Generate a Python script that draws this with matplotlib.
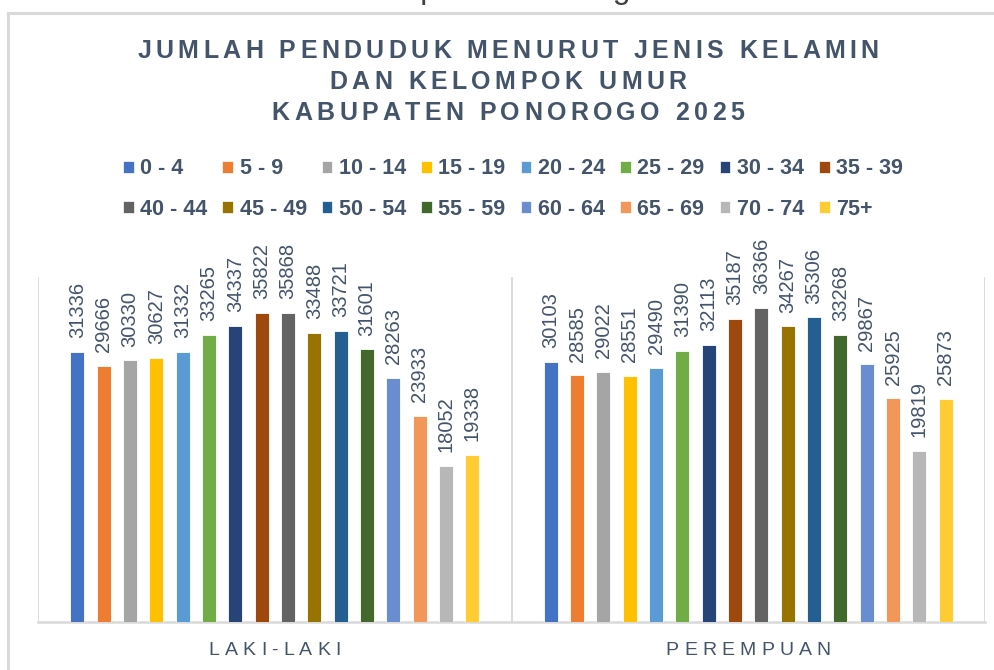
import numpy as np
import matplotlib
matplotlib.use('Agg')
import matplotlib.pyplot as plt
from matplotlib.patches import Patch
from matplotlib.lines import Line2D
from matplotlib.font_manager import FontProperties

plt.rcParams['font.family'] = ['Liberation Sans', 'DejaVu Sans']

# --- Data ---
kelompok_umur = ['0 - 4', '5 - 9', '10 - 14', '15 - 19', '20 - 24', '25 - 29',
                 '30 - 34', '35 - 39', '40 - 44', '45 - 49', '50 - 54', '55 - 59',
                 '60 - 64', '65 - 69', '70 - 74', '75+']
jenis_kelamin = ['LAKI-LAKI', 'PEREMPUAN']
laki_laki = [31336, 29666, 30330, 30627, 31332, 33265, 34337, 35822,
             35868, 33488, 33721, 31601, 28263, 23933, 18052, 19338]
perempuan = [30103, 28585, 29022, 28551, 29490, 31390, 32113, 35187,
             36366, 34267, 35306, 33268, 29867, 25925, 19819, 25873]
warna = ['#4472C4', '#ED7D31', '#A5A5A5', '#FFC000', '#5B9BD5', '#70AD47',
         '#264478', '#9E480E', '#636363', '#997300', '#255E91', '#43682B',
         '#698ED0', '#F1975A', '#B7B7B7', '#FFCD33']
judul = ['JUMLAH PENDUDUK MENURUT JENIS KELAMIN', 'DAN KELOMPOK UMUR',
         'KABUPATEN PONOROGO 2025']

W, H = 994, 670
teks_warna = '#44546A'
garis_warna = '#D9D9D9'

fig = plt.figure(figsize=(W / 100, H / 100), dpi=100)
renderer = fig.canvas.get_renderer()


def teks_renggang(x_px, y_px, s, jarak, fp, color):
    """Tulis teks dengan spasi antar huruf (posisi dalam piksel, y = baseline dari atas)."""
    lebar = [renderer.get_text_width_height_descent(c, fp, ismath=False)[0] for c in s]
    total = sum(lebar) + jarak * (len(s) - 1)
    x = x_px - total / 2
    for c, w in zip(s, lebar):
        fig.text(x / W, 1 - y_px / H, c, fontproperties=fp, color=color,
                 ha='left', va='baseline')
        x += w + jarak


# caption halaman yang terpotong di atas
fig.text(490 / W, 1 + 2 / H, 'Grafik Kabupaten Ponorogo 2025', fontsize=23,
         color='#404040', ha='center', va='baseline')

# bingkai chart
fig.add_artist(Line2D([8 / W, 1], [1 - 13 / H, 1 - 13 / H], transform=fig.transFigure,
                      color=garis_warna, lw=2.2))
fig.add_artist(Line2D([8 / W, 8 / W], [0, 1 - 13 / H], transform=fig.transFigure,
                      color=garis_warna, lw=2.2))

# --- Grafik batang ---
ax = fig.add_axes([38 / W, (H - 622) / H, (985 - 38) / W, 345 / H])
n = len(kelompok_umur)
slot = 0.0556
lebar_batang = 0.0296
x = np.arange(len(jenis_kelamin))
for i in range(n):
    nilai = [laki_laki[i], perempuan[i]]
    pos = x + (i - (n - 1) / 2) * slot
    bars = ax.bar(pos, nilai, width=lebar_batang, color=warna[i], edgecolor='white',
                  linewidth=0.6, label=kelompok_umur[i], zorder=3)
    ax.bar_label(bars, padding=10, rotation=90, fontsize=14.5, color=teks_warna)

ax.set_xlim(-0.5, 1.5)
ax.set_ylim(0, 40000)
for s in ['top', 'left', 'right']:
    ax.spines[s].set_visible(False)
ax.spines['bottom'].set_color(garis_warna)
ax.spines['bottom'].set_linewidth(1.8)
for xv in [-0.5, 0.5, 1.5]:
    ax.axvline(xv, color=garis_warna, lw=1.3, zorder=1)
ax.set_xticks([])
ax.set_yticks([])
ax.patch.set_alpha(0)

# label kategori
fp_kat = FontProperties(family=['Liberation Sans'], size=14)
for k, nama in enumerate(jenis_kelamin):
    xc = 38 + (k + 0.5) * (985 - 38) / 2
    teks_renggang(xc, 655, nama, 5.2, fp_kat, teks_warna)

# judul
fp_judul = FontProperties(family=['Liberation Sans'], size=18, weight='bold')
for baris, yb in zip(judul, [58.5, 89, 119.5]):
    teks_renggang(508, yb, baris, 4.4, fp_judul, teks_warna)

# legenda (urut per baris)
handles = [Patch(facecolor=c, edgecolor='white', linewidth=0.5) for c in warna]
urutan = [j + k * 8 for j in range(8) for k in (0, 1)]
fig.legend([handles[i] for i in urutan], [kelompok_umur[i] for i in urutan],
           ncol=8, loc='center', bbox_to_anchor=(513 / W, 1 - 189 / H),
           frameon=False, prop=FontProperties(family=['Liberation Sans'], size=15.5, weight='bold'),
           labelcolor=teks_warna, handlelength=0.5, handleheight=0.5,
           handletextpad=0.3, columnspacing=0.7, labelspacing=0.9, borderpad=0)

fig.savefig('out.png', dpi=100)
